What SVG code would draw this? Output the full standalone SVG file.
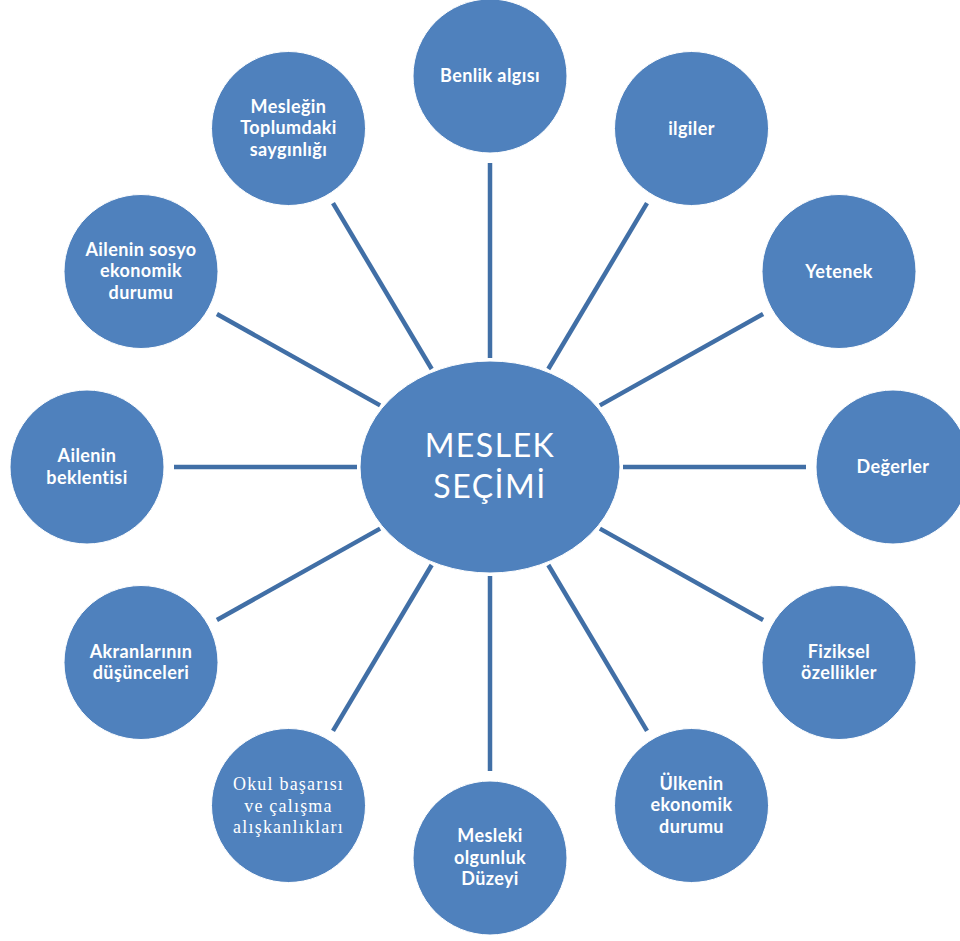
<svg xmlns="http://www.w3.org/2000/svg" width="960" height="941" viewBox="0 0 960 941">
<style>
.n{fill:#4f81bd;stroke:#ffffff;stroke-width:1}
.t{font-family:Lato,"Open Sans","Liberation Sans",sans-serif;font-weight:bold;font-size:18px;fill:#ffffff;text-anchor:middle;letter-spacing:0.4px}
.s{font-family:"Liberation Serif","DejaVu Serif",serif;font-size:18px;fill:#ffffff;text-anchor:middle;letter-spacing:1.2px}
.c{font-family:Lato,"Open Sans","Liberation Sans",sans-serif;font-size:32px;fill:#ffffff;text-anchor:middle;letter-spacing:1.5px}
#connectors line{stroke:#416fa6;stroke-width:4.5}
</style>
<rect width="960" height="941" fill="#ffffff"/>
<g id="connectors">
<line x1="490" y1="358" x2="490" y2="163"/>
<line x1="548.3" y1="369" x2="647" y2="203.2"/>
<line x1="599.9" y1="405.4" x2="763.1" y2="314"/>
<line x1="623" y1="467" x2="806" y2="467"/>
<line x1="599.9" y1="528.6" x2="763.1" y2="620"/>
<line x1="548.3" y1="565" x2="647" y2="730.8"/>
<line x1="490" y1="576" x2="490" y2="771"/>
<line x1="431.7" y1="565" x2="333" y2="730.8"/>
<line x1="380.1" y1="528.6" x2="216.9" y2="620"/>
<line x1="357" y1="467" x2="174" y2="467"/>
<line x1="380.1" y1="405.4" x2="216.9" y2="314"/>
<line x1="431.7" y1="369" x2="333" y2="203.2"/>
</g>
<g id="center">
<ellipse class="n" cx="490" cy="467" rx="130" ry="106"/>
<text class="c" x="490" y="457">MESLEK</text>
<text class="c" x="490" y="498">SEÇİMİ</text>
</g>
<g id="benlik">
<circle class="n" cx="490" cy="76" r="77"/>
<text class="t" x="490" y="82">Benlik algısı</text>
</g>
<g id="ilgiler">
<circle class="n" cx="691.5" cy="128.5" r="77"/>
<text class="t" x="691.5" y="134.5">ilgiler</text>
</g>
<g id="yetenek">
<circle class="n" cx="839" cy="271.5" r="77"/>
<text class="t" x="839" y="277.5">Yetenek</text>
</g>
<g id="degerler">
<circle class="n" cx="893" cy="467" r="77"/>
<text class="t" x="893" y="473">Değerler</text>
</g>
<g id="fiziksel">
<circle class="n" cx="839" cy="662.5" r="77"/>
<text class="t" x="839" y="657.5">Fiziksel</text>
<text class="t" x="839" y="679">özellikler</text>
</g>
<g id="ulkenin">
<circle class="n" cx="691.5" cy="805.5" r="77"/>
<text class="t" x="691.5" y="789.5">Ülkenin</text>
<text class="t" x="691.5" y="811">ekonomik</text>
<text class="t" x="691.5" y="832.5">durumu</text>
</g>
<g id="mesleki">
<circle class="n" cx="490" cy="858" r="77"/>
<text class="t" x="490" y="842">Mesleki</text>
<text class="t" x="490" y="863.5">olgunluk</text>
<text class="t" x="490" y="885">Düzeyi</text>
</g>
<g id="okul">
<circle class="n" cx="288.5" cy="805.5" r="77"/>
<text class="s" x="288.5" y="790">Okul başarısı</text>
<text class="s" x="288.5" y="811.5">ve çalışma</text>
<text class="s" x="288.5" y="833">alışkanlıkları</text>
</g>
<g id="akranlar">
<circle class="n" cx="141" cy="662.5" r="77"/>
<text class="t" x="141" y="657.5">Akranlarının</text>
<text class="t" x="141" y="679">düşünceleri</text>
</g>
<g id="beklenti">
<circle class="n" cx="87" cy="467" r="77"/>
<text class="t" x="87" y="462">Ailenin</text>
<text class="t" x="87" y="483.5">beklentisi</text>
</g>
<g id="sosyo">
<circle class="n" cx="141" cy="271.5" r="77"/>
<text class="t" x="141" y="255.5">Ailenin sosyo</text>
<text class="t" x="141" y="277">ekonomik</text>
<text class="t" x="141" y="298.5">durumu</text>
</g>
<g id="saygınlık">
<circle class="n" cx="288.5" cy="128.5" r="77"/>
<text class="t" x="288.5" y="112.5">Mesleğin</text>
<text class="t" x="288.5" y="134">Toplumdaki</text>
<text class="t" x="288.5" y="155.5">saygınlığı</text>
</g>
</svg>
